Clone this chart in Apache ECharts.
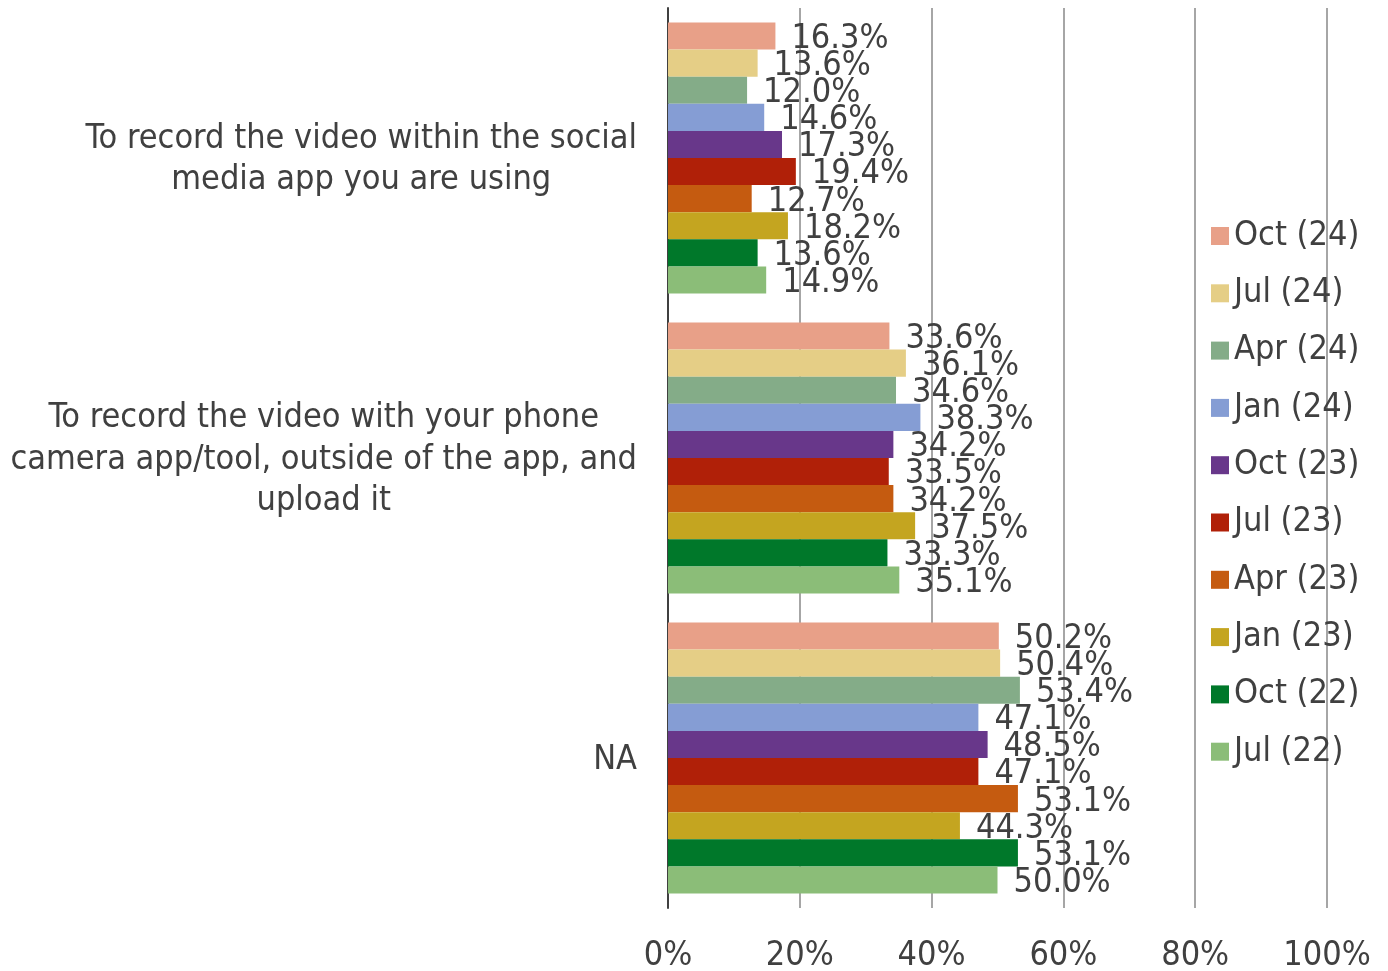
<!DOCTYPE html>
<html>
<head>
<meta charset="utf-8">
<script src="https://cdn.jsdelivr.net/npm/echarts@6/dist/echarts.min.js"></script>
<style>
html,body{margin:0;padding:0;background:#fff;}
#chart{width:1388px;height:971px;}
</style>
</head>
<body>
<div id="chart"></div>
<script>
// ---- Data ----
const categories = [
  "To record the video within the social media app you are using",
  "To record the video with your phone camera app/tool, outside of the app, and upload it",
  "NA"
];
const seriesNames = ["Oct (24)", "Jul (24)", "Apr (24)", "Jan (24)", "Oct (23)", "Jul (23)", "Apr (23)", "Jan (23)", "Oct (22)", "Jul (22)"];
const oct24 = [16.3, 33.6, 50.2];
const jul24 = [13.6, 36.1, 50.4];
const apr24 = [12.0, 34.6, 53.4];
const jan24 = [14.6, 38.3, 47.1];
const oct23 = [17.3, 34.2, 48.5];
const jul23 = [19.4, 33.5, 47.1];
const apr23 = [12.7, 34.2, 53.1];
const jan23 = [18.2, 37.5, 44.3];
const oct22 = [13.6, 33.3, 53.1];
const jul22 = [14.9, 35.1, 50.0];
const xTicks = [0, 20, 40, 60, 80, 100];

const seriesValues = [oct24, jul24, apr24, jan24, oct23, jul23, apr23, jan23, oct22, jul22];
const colors = ["#E8A088", "#E5CE86", "#84AC88", "#859DD4", "#68378A", "#B02008", "#C55B10", "#C4A520", "#00782A", "#8BBD78"];

// ---- Font detection ----
function hasFont(name) {
  const c = document.createElement('canvas').getContext('2d');
  const s = 'To record the video 0123456789%';
  const res = ['monospace', 'serif'].map(function (fb) {
    c.font = '100px ' + fb; const a = c.measureText(s).width;
    c.font = '100px "' + name + '", ' + fb; const b = c.measureText(s).width;
    return a !== b;
  });
  return res[0] && res[1];
}
let FONT, FS;
if (hasFont('DejaVu Sans Condensed')) { FONT = '"DejaVu Sans Condensed"'; FS = 34; }
else { FONT = '"DejaVu Sans", Verdana, sans-serif'; FS = 30.5; }
const TXT = '#404040';

// word wrap helper using canvas measurement
const mctx = document.createElement('canvas').getContext('2d');
function wrap(text, maxW) {
  mctx.font = FS + 'px ' + FONT;
  const words = text.split(' ');
  const lines = [];
  let cur = '';
  words.forEach(function (w) {
    const t = cur ? cur + ' ' + w : w;
    if (cur && mctx.measureText(t).width > maxW) { lines.push(cur); cur = w; }
    else cur = t;
  });
  if (cur) lines.push(cur);
  return lines;
}

const chart = echarts.init(document.getElementById('chart'), null, {renderer: 'canvas'});

const series = seriesNames.map(function (name, i) {
  return {
    name: name,
    type: 'bar',
    data: seriesValues[i],
    barGap: '0%',
    barCategoryGap: '9.6%',
    itemStyle: {color: colors[i]},
    label: {
      show: true,
      position: 'right',
      distance: 16,
      offset: [0, 3],
      fontFamily: FONT,
      fontSize: FS,
      color: TXT,
      formatter: function (p) { return p.value.toFixed(1) + '%'; }
    },
    emphasis: {disabled: true}
  };
});

chart.setOption({
  animation: false,
  backgroundColor: '#fff',
  textStyle: {fontFamily: FONT, color: TXT},
  grid: {left: 668, top: 8, width: 659, height: 900, containLabel: false, outerBoundsMode: 'none'},
  legend: {
    orient: 'vertical',
    left: 1206,
    top: 213,
    itemWidth: 18,
    itemHeight: 18,
    itemGap: 21.3,
    icon: 'rect',
    data: seriesNames,
    textStyle: {fontFamily: FONT, fontSize: FS, color: TXT, lineHeight: 36},
    selectedMode: false
  },
  xAxis: {
    type: 'value',
    min: xTicks[0],
    max: xTicks[xTicks.length - 1],
    interval: xTicks[1] - xTicks[0],
    axisLine: {show: false},
    axisTick: {show: false},
    splitLine: {show: true, lineStyle: {color: '#A6A6A6', width: 2}},
    axisLabel: {
      fontFamily: FONT, fontSize: FS, color: TXT, margin: 31,
      formatter: function (v) { return v + '%'; }
    }
  },
  yAxis: {
    type: 'category',
    inverse: true,
    data: categories,
    axisLine: {show: true, lineStyle: {color: '#404040', width: 2}},
    axisTick: {show: false},
    splitLine: {show: false},
    axisLabel: {
      margin: 31,
      formatter: function (v) {
        return wrap(v, 645).map(function (l) { return '{c|' + l + '}'; }).join('\n');
      },
      rich: {
        c: {align: 'center', verticalAlign: 'bottom', padding: [0, 0, 2, 0], fontFamily: FONT, fontSize: FS, color: TXT, lineHeight: 41.5}
      }
    }
  },
  series: series
});
</script>
</body>
</html>
